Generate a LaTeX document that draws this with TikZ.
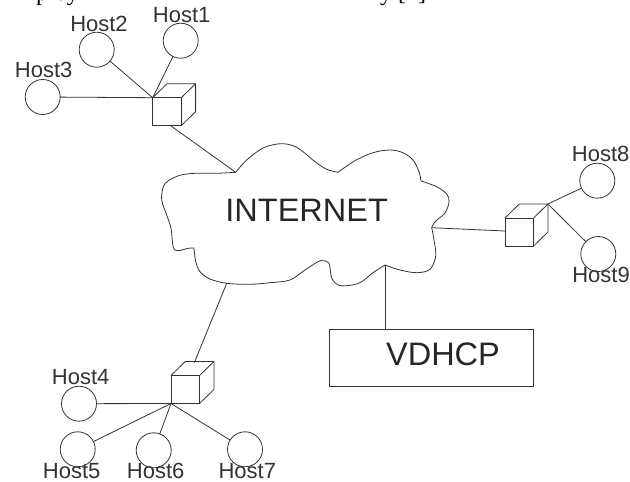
\documentclass[tikz,border=0pt]{standalone}
\usepackage{fontspec}
\usetikzlibrary{calc}
\setmainfont{Liberation Sans}
\newfontfamily\serifcut{Liberation Serif}
\definecolor{ink}{gray}{0.2}
\tikzset{
  wire/.style={draw=ink,line width=0.8pt,line join=round},
  hostdot/.style={circle,draw=ink,line width=0.8pt,minimum size=35pt,inner sep=0pt,outer sep=0pt},
  hostlabel/.style={inner sep=0pt,text=ink,font=\fontsize{22}{24}\selectfont},
  biglabel/.style={inner sep=0pt,text=black!85,font=\fontsize{32.5}{36}\selectfont},
  cubeface/.style={rectangle,draw=ink,line width=0.8pt,minimum width=28.6pt,minimum height=28pt,inner sep=0pt,outer sep=0pt},
  server/.style={rectangle,draw=ink,line width=0.9pt,minimum width=204pt,minimum height=56.7pt,inner sep=0pt,outer sep=0pt},
}
\newcommand{\cubeback}[1]{\draw[wire] (#1.north west) -- ++(14.3,-14) -- ++(28.6,0) -- ++(0,28) -- (#1.south east) (#1.north east) -- ++(14.3,-14);}
\begin{document}
\begin{tikzpicture}[x=1pt,y=-1pt]
\useasboundingbox (0,0) rectangle (630,482);
% clipped line of text above the figure
\begin{scope}
\clip (0,0) rectangle (630,6);
\node[anchor=base west,inner sep=0pt,font=\serifcut\fontsize{24}{26}\selectfont] (cuta) at (36,0) {ploy};
\node[anchor=base west,inner sep=0pt,font=\serifcut\fontsize{24}{26}\selectfont] (cutb) at (380,0) {y [1]};
\end{scope}
% cloud
\coordinate (cA) at (235.7,172.3);
\coordinate (cR) at (431.7,227.7);
\coordinate (cB) at (385,265);
\coordinate (cL) at (226.7,283.3);
\draw[wire]
 plot[smooth,tension=.55] coordinates {(235.7,172.3)(246.7,160)(263,148)(280,143.7)(293,145.7)(303,151.7)(315,161.7)(326.7,169.3)(338,172.3)}
 -- plot[smooth,tension=.55] coordinates {(338,172.3)(355,160.7)(373,152.7)(390,150)(403,152.7)(413,160)(419,171.7)(421,181)}
 -- plot[smooth,tension=.55] coordinates {(421,181)(436.7,186.7)(446.7,194)(449,201.7)(445,213)(435,221.7)(431.7,227.7)}
 -- plot[smooth,tension=.55] coordinates {(431.7,227.7)(434,240)(435.7,256)(430,269.3)(416.7,272.7)(400,270)(385,265)}
 -- plot[smooth,tension=.55] coordinates {(385,265)(373,272.7)(360,282.7)(346.7,285.7)(338,285)(331.7,278)(329,263.3)(323,260.7)(318,261.7)(305,270)(290,280)(270,282.7)(250,284.3)(226.7,283.3)(210,279)(200,271.7)(195.7,261.7)(194,248)}
 -- plot[smooth,tension=.55] coordinates {(194,248)(188,248.3)(178,250.7)(173.3,247.3)(171,228.3)(166.7,215)(161.7,200)(163.3,186.7)(168.3,180.7)(180,175.3)(195,173.3)(216.7,173.3)(235.7,172.3)};
\node[biglabel] (inet) at (306.7,210.5) {INTERNET};
% hosts
\node[hostdot] (h1) at (180.7,40.7) {};
\node[hostdot] (h2) at (96.7,49.7) {};
\node[hostdot] (h3) at (42.7,97) {};
\node[hostdot] (h4) at (79,403.7) {};
\node[hostdot] (h5) at (77.7,449.3) {};
\node[hostdot] (h6) at (153.7,450.3) {};
\node[hostdot] (h7) at (245,449.3) {};
\node[hostdot] (h8) at (597.3,180.7) {};
\node[hostdot] (h9) at (598.3,254) {};
% host labels
\node[hostlabel] (l1) at (181.7,15) {Host1};
\node[hostlabel] (l2) at (99,24) {Host2};
\node[hostlabel] (l3) at (43.7,70) {Host3};
\node[hostlabel] (l4) at (80.7,377) {Host4};
\node[hostlabel] (l5) at (71.7,470.7) {Host5};
\node[hostlabel] (l6) at (155.7,470.7) {Host6};
\node[hostlabel] (l7) at (247.3,470.7) {Host7};
\node[hostlabel] (l8) at (600.7,154) {Host8};
\node[hostlabel] (l9) at (601,275) {Host9};
% cubes
\node[cubeface] (s1) at (167,111.7) {};
\node[cubeface] (s2) at (519.3,232) {};
\node[cubeface] (s3) at (185.3,389.5) {};
\cubeback{s1}
\cubeback{s2}
\cubeback{s3}
% hub points
\coordinate (hub1) at (s1.north west);
\coordinate (hub2) at ($(s2.north east)+(14.3,-14)$);
\coordinate (hub3) at (s3.south west);
\coordinate (up3) at (194.3,362.7);
\coordinate (low1) at (171,126);
\coordinate (left2) at (505,231);
% server
\node[server] (vd) at (431.3,357.7) {};
\node[biglabel] (vdt) at (443,354.5) {VDHCP};
% connectors
\draw[wire] (h1) -- (hub1);
\draw[wire] (h2) -- (hub1);
\draw[wire] (h3) -- (hub1);
\draw[wire] (low1) -- (cA);
\draw[wire] (cR) -- (left2);
\draw[wire] (hub2) -- (h8);
\draw[wire] (hub2) -- (h9);
\draw[wire] (cB) -- (cB |- vd.north);
\draw[wire] (cL) -- (up3);
\draw[wire] (hub3) -- (h4);
\draw[wire] (hub3) -- (h5);
\draw[wire] (hub3) -- (h6);
\draw[wire] (hub3) -- (h7);
\end{tikzpicture}
\end{document}
